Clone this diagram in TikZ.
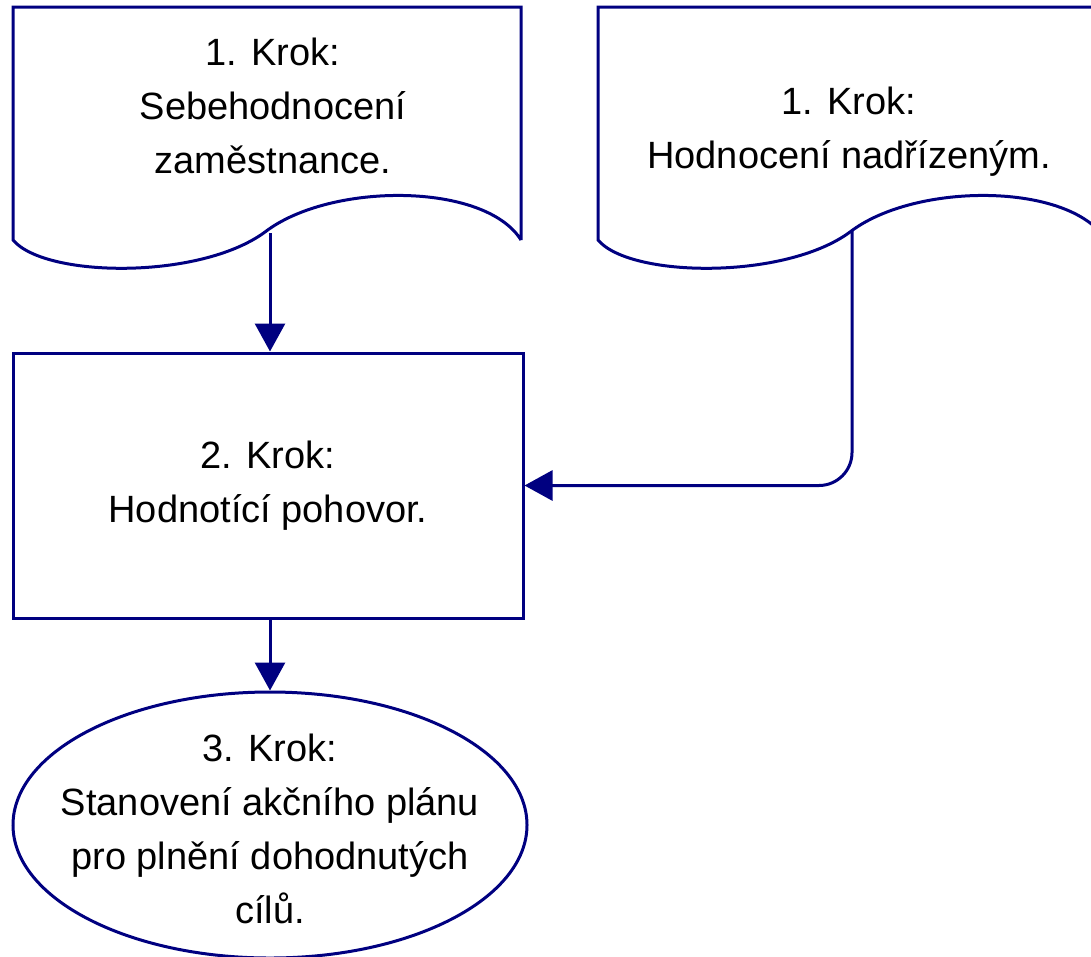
\documentclass[tikz,border=0pt]{standalone}
\usepackage{fontspec}
\setmainfont{Liberation Sans}
\usetikzlibrary{arrows.meta,shapes.geometric}
\definecolor{dnavy}{RGB}{0,0,128}
\tikzset{
  shapeline/.style={draw=dnavy, line width=3pt, line join=miter},
  txt/.style={align=center, font=\fontsize{38}{54}\selectfont, text=black, inner sep=0pt},
  conn/.style={draw=dnavy, line width=3pt, -{Triangle[length=28pt,width=30pt]}},
}
\begin{document}
\begin{tikzpicture}[x=1pt,y=-1pt]
\clip (0,0) rectangle (1091,956);
% document shape 1
\draw[shapeline] (521,240) -- (521,7) -- (13,7) -- (13,240)
  .. controls (45,278) and (200,280) .. (265,232)
  .. controls (330,182) and (485,182) .. (521,240);
\node[txt] (d1) at (273,106) {1. Krok:\\Sebehodnocení\\zaměstnance.};
\coordinate (c1) at (270,233);
% document shape 2
\begin{scope}[xshift=585pt]
\draw[shapeline] (521,240) -- (521,7) -- (13,7) -- (13,240)
  .. controls (45,278) and (200,280) .. (265,232)
  .. controls (330,182) and (485,182) .. (521,240);
\end{scope}
\node[txt] (d2) at (849,132) {1. Krok:\\Hodnocení nadřízeným.};
\coordinate (c2) at (852,231);
% box 2
\node[shapeline, rectangle, minimum width=510pt, minimum height=265pt, inner sep=0pt] (b2) at (268,485.5) {};
\node[txt] at (b2.center) {2. Krok:\\Hodnotící pohovor.};
% ellipse
\node[shapeline, ellipse, minimum width=514pt, minimum height=266pt, inner sep=0pt] (e) at (270,825) {};
\node[txt] at (270,829) {3. Krok:\\Stanovení akčního plánu\\pro plnění dohodnutých\\cílů.};
% connectors
\draw[conn] (c1) -- (c1 |- b2.north);
\draw[conn, rounded corners=33pt] (c2) |- (b2.east);
\draw[conn] (e.north |- b2.south) -- (e.north);
\end{tikzpicture}
\end{document}
